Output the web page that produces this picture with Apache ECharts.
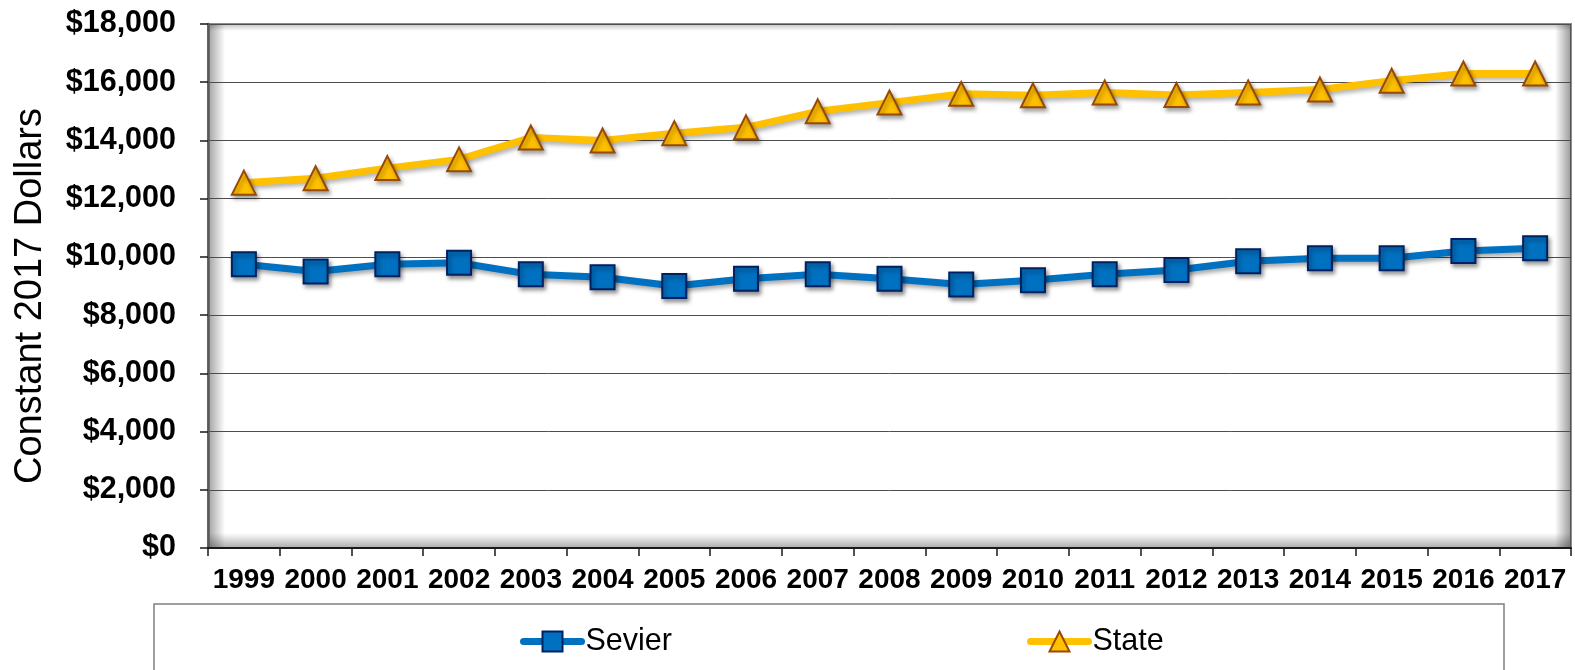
<!DOCTYPE html>
<html>
<head>
<meta charset="utf-8">
<script src="https://cdn.jsdelivr.net/npm/echarts@6/dist/echarts.min.js"></script>
<style>
html,body{margin:0;padding:0;background:#fff;}
#chart{width:1575px;height:670px;}
</style>
</head>
<body>
<div id="chart"></div>
<script>
const years = ['1999','2000','2001','2002','2003','2004','2005','2006','2007','2008','2009','2010','2011','2012','2013','2014','2015','2016','2017'];
const sevier = [9750,9500,9750,9800,9400,9300,9000,9250,9400,9250,9050,9200,9400,9550,9850,9950,9950,10200,10300];
const state = [12550,12700,13050,13350,14100,14000,14250,14450,15000,15300,15600,15550,15650,15560,15650,15750,16050,16300,16300];
const yTicks = {min:0, max:18000, interval:2000};
const yTitle = 'Constant 2017 Dollars';

const chart = echarts.init(document.getElementById('chart'), null, {renderer:'canvas'});
const FONT = '"Liberation Sans", Arial, sans-serif';
const legendCommon = {top:621, itemWidth:58, itemHeight:25, itemGap:0,
  lineStyle:{width:7, cap:'round'},
  textStyle:{fontFamily:FONT, fontSize:30.5, color:'#000', padding:[0,0,0,-1]}};
chart.setOption({
  animation:false,
  backgroundColor:'#fff',
  grid:{left:208, right:4, top:24, bottom:122, show:true, backgroundColor:'#fff', borderColor:'#8c8c8c', borderWidth:2},
  graphic:[
    {type:'rect', z:1, shape:{x:209,y:25,width:16,height:522}, style:{fill:{type:'linear',x:0,y:0,x2:1,y2:0,colorStops:[{offset:0,color:'rgba(0,0,0,0.35)'},{offset:1,color:'rgba(0,0,0,0)'}]}}},
    {type:'rect', z:1, shape:{x:209,y:533,width:1361,height:14}, style:{fill:{type:'linear',x:0,y:0,x2:0,y2:1,colorStops:[{offset:0,color:'rgba(0,0,0,0)'},{offset:1,color:'rgba(0,0,0,0.3)'}]}}},
    {type:'rect', z:1, shape:{x:1555,y:25,width:16,height:522}, style:{fill:{type:'linear',x:0,y:0,x2:1,y2:0,colorStops:[{offset:0,color:'rgba(0,0,0,0)'},{offset:1,color:'rgba(0,0,0,0.4)'}]}}},
    {type:'rect', z:1, shape:{x:209,y:25,width:1361,height:6}, style:{fill:{type:'linear',x:0,y:0,x2:0,y2:1,colorStops:[{offset:0,color:'rgba(0,0,0,0.2)'},{offset:1,color:'rgba(0,0,0,0)'}]}}},
    {type:'rect', z:0, shape:{x:154,y:604,width:1350,height:80}, style:{fill:'#fff', stroke:'#7f7f7f', lineWidth:1.5}}
  ],
  xAxis:{
    type:'category', data:years, boundaryGap:true,
    axisLine:{show:true, lineStyle:{color:'#1a1a1a', width:2}},
    axisTick:{show:true, length:8, lineStyle:{color:'#1a1a1a', width:1.5}},
    axisLabel:{fontFamily:FONT, fontWeight:'bold', fontSize:28, color:'#000', margin:18, interval:0},
    splitLine:{show:false}, z:3
  },
  yAxis:{
    type:'value', min:yTicks.min, max:yTicks.max, interval:yTicks.interval,
    name:yTitle, nameLocation:'middle', nameGap:158, nameRotate:90,
    nameTextStyle:{fontFamily:FONT, fontSize:38, color:'#000', padding:[0,20,0,0]},
    axisLine:{show:true, lineStyle:{color:'#595959', width:2.5}},
    axisTick:{show:true, length:8, lineStyle:{color:'#1a1a1a', width:1.5}},
    axisLabel:{fontFamily:FONT, fontWeight:'bold', fontSize:30.5, color:'#000', margin:32,
      formatter:v=>'$'+v.toLocaleString('en-US')},
    splitLine:{show:true, lineStyle:{color:'#4d4d4d', width:1}}, z:3
  },
  legend:[
    Object.assign({data:['Sevier'], left:515}, legendCommon),
    Object.assign({data:['State'], left:1022}, legendCommon)
  ],
  series:[
    {name:'Sevier', type:'line', data:sevier, symbol:'rect', symbolSize:24, z:5,
     lineStyle:{color:'#0070C0', width:7, shadowColor:'rgba(0,0,0,0.35)', shadowBlur:4, shadowOffsetX:2, shadowOffsetY:3},
     itemStyle:{color:'#0070C0', borderColor:'#002060', borderWidth:2, shadowColor:'rgba(0,0,0,0.4)', shadowBlur:4, shadowOffsetX:2, shadowOffsetY:3}},
    {name:'State', type:'line', data:state, symbol:'triangle', symbolSize:24, z:5,
     lineStyle:{color:'#FFC000', width:7, shadowColor:'rgba(0,0,0,0.3)', shadowBlur:4, shadowOffsetX:2, shadowOffsetY:3},
     itemStyle:{color:'#FFC000', borderColor:'#984807', borderWidth:2, shadowColor:'rgba(0,0,0,0.35)', shadowBlur:4, shadowOffsetX:2, shadowOffsetY:3}}
  ]
});
</script>
</body>
</html>
